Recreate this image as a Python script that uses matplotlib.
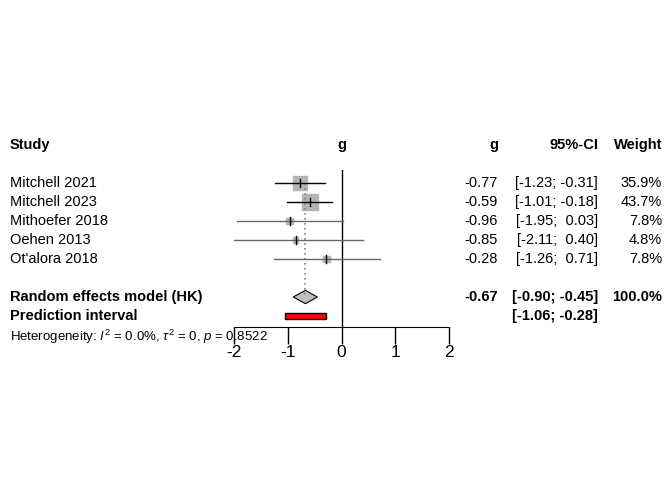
import matplotlib.pyplot as plt
from matplotlib.patches import Polygon, Rectangle

plt.rcParams['font.family'] = ['Liberation Sans', 'DejaVu Sans']
plt.rcParams['mathtext.fontset'] = 'custom'
plt.rcParams['mathtext.it'] = 'Liberation Sans:italic'
plt.rcParams['mathtext.rm'] = 'Liberation Sans'

studies = ["Mitchell 2021", "Mitchell 2023", "Mithoefer 2018", "Oehen 2013", "Ot'alora 2018"]
g = [-0.77, -0.59, -0.96, -0.85, -0.28]
lo = [-1.23, -1.01, -1.95, -2.11, -1.26]
hi = [-0.31, -0.18, 0.03, 0.40, 0.71]
weight = [35.9, 43.7, 7.8, 4.8, 7.8]
re_g, re_lo, re_hi = -0.67, -0.90, -0.45
pi_lo, pi_hi = -1.06, -0.28
ticks = [-2, -1, 0, 1, 2]

W, H = 672, 480
fig = plt.figure(figsize=(6.72, 4.8), dpi=100)

# forest panel: row k sits at pixel 164 + 19*k
top_k, bot_k = 0.3, 8.58
ax = fig.add_axes([234 / W, 1 - (164 + 19 * bot_k) / H, (449 - 234) / W, 19 * (bot_k - top_k) / H])
ax.set_xlim(-2, 2)
ax.set_ylim(bot_k, top_k)
for s in ["top", "right", "left"]:
    ax.spines[s].set_visible(False)
ax.set_yticks([])
ax.set_xticks(ticks)
ax.set_xticklabels([str(t) for t in ticks], fontsize=12.5)
ax.tick_params(axis="x", length=12, width=1, pad=1)
ax.patch.set_visible(False)

ax.axvline(0, color="black", lw=1, ymin=0, ymax=1)
ax.plot([re_g, re_g], [1, 7], color="gray", ls=(0, (1, 2)), lw=1.2)

for i in range(len(studies)):
    k = i + 1
    c = "black" if weight[i] > 20 else "dimgray"
    ax.plot([lo[i], hi[i]], [k, k], color=c, lw=1, zorder=2)
    side = 0.0227 * weight[i] ** 0.5
    hsq = side * 53.9 / 19
    ax.add_patch(Rectangle((g[i] - side, k - hsq), 2 * side, 2 * hsq, color="#b4b4b4", zorder=1))
    ax.plot([g[i], g[i]], [k - 0.22, k + 0.22], color="black", lw=1, zorder=3)

ax.add_patch(Polygon([[re_lo, 7], [re_g, 6.65], [re_hi, 7], [re_g, 7.35]],
                     closed=True, facecolor="#c0c0c0", edgecolor="black", lw=0.8))
ax.add_patch(Rectangle((pi_lo, 7.85), pi_hi - pi_lo, 0.3, facecolor="red", edgecolor="black", lw=1))

# text overlay in pixel coordinates
t = fig.add_axes([0, 0, 1, 1])
t.set_xlim(0, W)
t.set_ylim(H, 0)
t.axis("off")
t.patch.set_visible(False)
fs = 10.5
t.text(10, 145, "Study", fontsize=fs, fontweight="bold", va="center")
t.text(342, 145, "g", fontsize=fs, fontweight="bold", va="center", ha="center")
t.text(498, 145, "g", fontsize=fs, fontweight="bold", va="center", ha="right")
t.text(598, 145, "95%-CI", fontsize=fs, fontweight="bold", va="center", ha="right")
t.text(662, 145, "Weight", fontsize=fs, fontweight="bold", va="center", ha="right")
for i in range(len(studies)):
    y = 164 + 19 * (i + 1)
    t.text(10, y, studies[i], fontsize=fs, va="center")
    t.text(498, y, f"{g[i]:.2f}", fontsize=fs, va="center", ha="right")
    t.text(598, y, f"[{lo[i]:.2f}; {hi[i]:5.2f}]", fontsize=fs, va="center", ha="right")
    t.text(662, y, f"{weight[i]:.1f}%", fontsize=fs, va="center", ha="right")
y = 164 + 19 * 7
t.text(10, y, "Random effects model (HK)", fontsize=fs, fontweight="bold", va="center")
t.text(498, y, f"{re_g:.2f}", fontsize=fs, fontweight="bold", va="center", ha="right")
t.text(598, y, f"[{re_lo:.2f}; {re_hi:.2f}]", fontsize=fs, fontweight="bold", va="center", ha="right")
t.text(662, y, "100.0%", fontsize=fs, fontweight="bold", va="center", ha="right")
y = 164 + 19 * 8
t.text(10, y, "Prediction interval", fontsize=fs, fontweight="bold", va="center")
t.text(598, y, f"[{pi_lo:.2f}; {pi_hi:.2f}]", fontsize=fs, fontweight="bold", va="center", ha="right")
t.text(10, 337, r"Heterogeneity: $I^2$ = 0.0%, $\tau^2$ = 0, $p$ = 0.8522", fontsize=9.5, va="center")

fig.savefig("out.png", dpi=100)
